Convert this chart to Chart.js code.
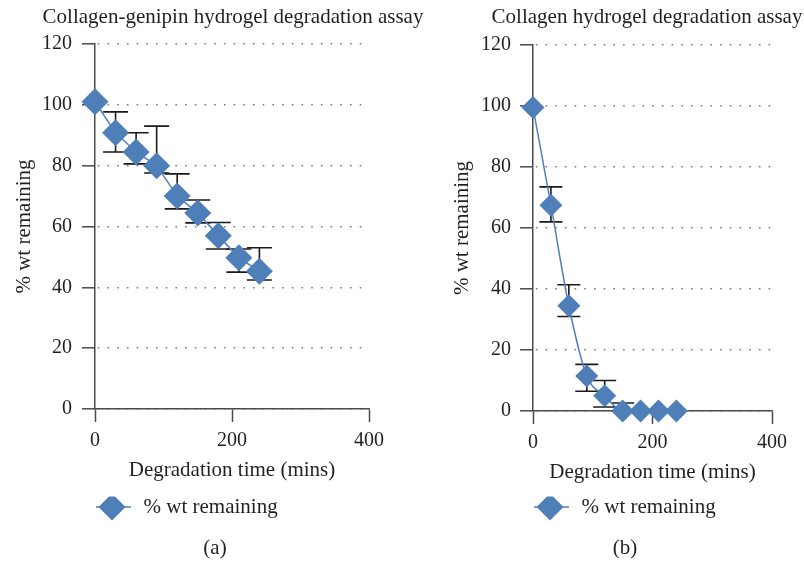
<!DOCTYPE html>
<html>
<head>
<meta charset="utf-8">
<script src="https://cdn.jsdelivr.net/npm/chart.js@4.4.1/dist/chart.umd.min.js"></script>
<style>
body { margin: 0; background: #fff; width: 804px; height: 563px; position: relative; overflow: hidden;
       font-family: "Liberation Serif", serif; color: #231f20; }
.panel { position: absolute; top: 0; width: 402px; height: 563px; }
.lbl { position: absolute; font-size: 21px; line-height: 21px; white-space: nowrap; transform: translateX(-50%); }
</style>
</head>
<body>
<div class="panel" style="left:0"><canvas id="chartA" width="402" height="563"></canvas></div>
<div class="panel" style="left:402px"><canvas id="chartB" width="402" height="563"></canvas></div>
<div class="lbl" style="left:233px;top:6px">Collagen-genipin hydrogel degradation assay</div>
<div class="lbl" style="left:647px;top:6px">Collagen hydrogel degradation assay</div>
<div class="lbl" style="left:215px;top:537px">(a)</div>
<div class="lbl" style="left:625px;top:537px">(b)</div>
<script>
// data
const timeMins = [0, 30, 60, 90, 120, 150, 180, 210, 240];

const genipinWt     = [101, 90.8, 84.5, 80, 70, 64.4, 57, 49.7, 45.3];
const genipinTop    = [101, 97.7, 90.8, 93, 77.3, 68.7, 61.3, 52.6, 53];
const genipinBottom = [101, 84.5, 80.6, 77.6, 65.8, 61.2, 52.6, 45, 42.4];

const collagenWt     = [99.5, 67.5, 34.5, 11.5, 5, 0, 0, 0, 0];
const collagenTop    = [99.5, 73.5, 41.4, 15.3, 10, 2.6, 0, 0, 0];
const collagenBottom = [99.5, 62, 31, 6.5, 1.3, 0, 0, 0, 0];

const seriesName = '% wt remaining';
const xTitle = 'Degradation time (mins)';
const yTitle = '% wt remaining';

const blue = '#4f7fb9';
const ink = '#231f20';
const axisCol = '#4a4a4a';
const font = '"Liberation Serif", serif';

/**
 * error bars, drawn under the markers
 */
const errorBars = {
    id: 'errorBars',
    beforeDatasetsDraw(chart) {
        const ctx = chart.ctx;
        const xs = chart.scales.x, ys = chart.scales.y;
        chart.data.datasets.forEach(ds => {
            if (!ds.errTop) return;
            const cap = ds.capWidth / 2;
            ctx.save();
            ctx.strokeStyle = '#1a1a1a';
            ctx.lineWidth = 1.6;
            ds.data.forEach((p, i) => {
                const hi = ds.errTop[i], lo = ds.errBottom[i];
                if (hi - lo < 0.5) return;
                const x = xs.getPixelForValue(p.x);
                const y1 = ys.getPixelForValue(hi);
                const y2 = ys.getPixelForValue(lo);
                ctx.beginPath();
                ctx.moveTo(x, y1); ctx.lineTo(x, y2);
                ctx.moveTo(x - cap, y1); ctx.lineTo(x + cap, y1);
                ctx.moveTo(x - cap, y2); ctx.lineTo(x + cap, y2);
                ctx.stroke();
            });
            ctx.restore();
        });
    }
};

// little line + diamond for the legend
function legendSwatch(r) {
    const c = document.createElement('canvas');
    c.width = 38; c.height = 30;
    const g = c.getContext('2d');
    g.strokeStyle = blue; g.lineWidth = 1.5;
    g.beginPath(); g.moveTo(1, 15); g.lineTo(36, 15); g.stroke();
    g.fillStyle = blue;
    g.beginPath();
    g.moveTo(17 - r, 15); g.lineTo(17, 15 - r); g.lineTo(17 + r, 15); g.lineTo(17, 15 + r);
    g.closePath(); g.fill();
    return c;
}

function makeChart(id, wt, top, bottom, o) {
    const ctx = document.getElementById(id).getContext('2d');
    return new Chart(ctx, {
        type: 'line',
        data: {
            datasets: [{
                label: seriesName,
                data: timeMins.map((t, i) => ({x: t, y: wt[i]})),
                errTop: top,
                errBottom: bottom,
                capWidth: o.cap,
                borderColor: blue,
                borderWidth: 1.5,
                backgroundColor: blue,
                pointStyle: 'rectRot',
                pointRadius: o.radius,
                pointBorderWidth: 0,
                tension: 0,
                cubicInterpolationMode: o.smooth ? 'monotone' : 'default',
                clip: false
            }]
        },
        options: {
            responsive: false,
            animation: false,
            events: [],
            layout: {padding: {left: 0, right: o.padRight, top: o.padTop, bottom: 35.5}},
            plugins: {
                tooltip: {enabled: false},
                legend: {
                    position: 'bottom',
                    align: 'start',
                    fullSize: false,
                    labels: {
                        usePointStyle: true,
                        pointStyle: legendSwatch(13.5),
                        pointStyleWidth: 38,
                        padding: 0,
                        color: ink,
                        font: {family: font, size: 21}
                    }
                }
            },
            scales: {
                x: {
                    type: 'linear',
                    min: 0, max: 400,
                    afterFit: s => { s.height = o.xHeight; },
                    ticks: {stepSize: 200, padding: 7, color: ink, font: {family: font, size: 20}},
                    grid: {drawOnChartArea: false, tickLength: 13, tickColor: axisCol, tickWidth: 1.5},
                    border: {color: axisCol, width: 1.5},
                    title: {display: true, text: xTitle, color: ink, font: {family: font, size: 21},
                            padding: {top: 0, bottom: o.xTitlePad}}
                },
                y: {
                    min: 0, max: 120,
                    afterFit: s => { s.width = o.yWidth; },
                    ticks: {stepSize: 20, padding: o.yTickPad, color: ink, font: {family: font, size: 20}},
                    grid: {color: '#7a7a7a', lineWidth: 1.6, tickLength: 13, tickColor: axisCol, tickWidth: 1.5},
                    border: {color: axisCol, width: 1.5, dash: [1.6, 8.1], dashOffset: -12},
                    title: {display: true, text: yTitle, color: ink, font: {family: font, size: 21},
                            padding: {top: o.yTitlePad, bottom: 0}}
                }
            }
        },
        plugins: [errorBars]
    });
}

const chartA = makeChart('chartA', genipinWt, genipinTop, genipinBottom, {
    radius: 13.5, cap: 25, smooth: false,
    padRight: 33, padTop: 44, xHeight: 87.5, xTitlePad: 13.9,
    yWidth: 95, yTickPad: 10, yTitlePad: 11.4
});
const chartB = makeChart('chartB', collagenWt, collagenTop, collagenBottom, {
    radius: 11.5, cap: 23, smooth: true,
    padRight: 32, padTop: 45, xHeight: 85.5, xTitlePad: 11.9,
    yWidth: 131, yTickPad: 9, yTitlePad: 47.4
});
</script>
</body>
</html>
